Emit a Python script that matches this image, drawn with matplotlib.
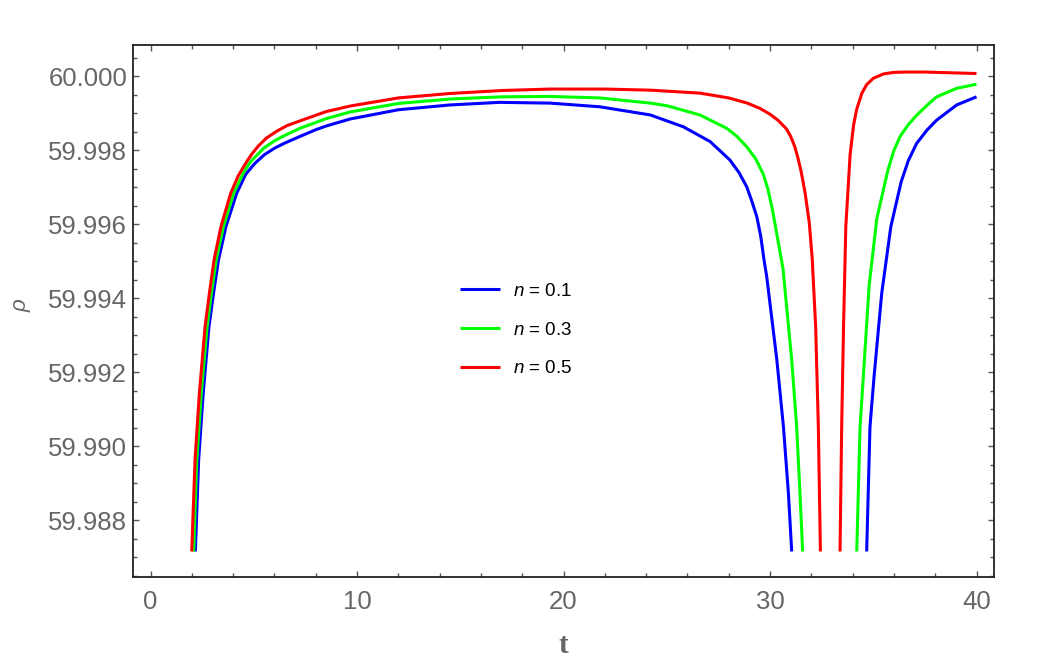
import numpy as np
import matplotlib
matplotlib.use("Agg")
from matplotlib import pyplot as plt
from matplotlib.ticker import MultipleLocator, FormatStrFormatter

# curves: each one splits in two branches around the dip
blue_t_a = [2.17, 2.33, 2.55, 2.83, 3.05, 3.29, 3.65, 4.17, 4.6, 5.05, 5.5, 6.0, 6.5, 7.24,
            8.0, 8.5, 9.66, 12.0, 14.5, 16.9, 19.35, 21.76, 24.2, 25.8, 27.1, 28.06, 28.5,
            28.87, 29.1, 29.36, 29.55, 29.71, 29.84, 30.33, 30.65, 30.89, 31.05]
blue_r_a = [59.98716, 59.98964, 59.99144, 59.99324, 59.99414, 59.99504, 59.99594, 59.99684,
            59.99735, 59.99765, 59.99788, 59.99806, 59.99820, 59.99838, 59.99856, 59.99866,
            59.99885, 59.99910, 59.99923, 59.99930, 59.99928, 59.99918, 59.99896, 59.99864,
            59.99824, 59.99774, 59.99740, 59.99702, 59.99666, 59.99621, 59.99568, 59.99504,
            59.99459, 59.99234, 59.99053, 59.98874, 59.98716]
blue_t_b = [34.68, 34.84, 35.04, 35.41, 35.85, 36.35, 36.7, 37.1, 37.6, 38.07, 39.04, 40.0]
blue_r_b = [59.98716, 59.99053, 59.99190, 59.99414, 59.99594, 59.99715, 59.99773, 59.99819,
            59.99855, 59.99882, 59.99923, 59.99945]

green_t_a = [2.09, 2.24, 2.46, 2.74, 2.95, 3.18, 3.53, 4.02, 4.5, 4.85, 5.48, 6.0, 6.4, 7.24,
             8.5, 9.66, 12.0, 14.5, 17.0, 19.35, 21.76, 24.2, 25.0, 26.6, 27.9, 28.4, 28.87,
             29.3, 29.68, 29.9, 30.12, 30.63, 31.05, 31.29, 31.45, 31.58]
green_r_a = [59.98716, 59.98964, 59.99144, 59.99324, 59.99414, 59.99504, 59.99594, 59.99684,
             59.99740, 59.99770, 59.99806, 59.99826, 59.99838, 59.99860, 59.99886, 59.99904,
             59.99927, 59.99939, 59.99945, 59.99946, 59.99942, 59.99928, 59.99921, 59.99896,
             59.99860, 59.99838, 59.99810, 59.99778, 59.99735, 59.99695, 59.99639, 59.99480,
             59.99234, 59.99053, 59.98874, 59.98716]
green_t_b = [34.2, 34.36, 34.52, 34.8, 35.17, 35.7, 36.0, 36.3, 36.7, 37.1, 37.6, 38.07, 39.04,
             40.0]
green_r_b = [59.98716, 59.99053, 59.99190, 59.99435, 59.99615, 59.99745, 59.99800, 59.99838,
             59.99870, 59.99895, 59.99922, 59.99945, 59.99968, 59.99979]

red_t_a = [1.995, 2.155, 2.365, 2.64, 2.85, 3.075, 3.41, 3.88, 4.25, 4.66, 4.9, 5.22, 5.6, 6.11,
           6.6, 7.24, 8.5, 9.66, 12.0, 14.5, 17.0, 19.35, 22.0, 24.2, 26.6, 28.0, 28.9, 29.5,
           30.0, 30.4, 30.8, 31.0, 31.2, 31.35, 31.5, 31.7, 31.9, 32.04, 32.21, 32.34, 32.44]
red_r_a = [59.98716, 59.98964, 59.99144, 59.99324, 59.99414, 59.99504, 59.99594, 59.99684,
           59.99732, 59.99770, 59.99790, 59.99812, 59.99833, 59.99852, 59.99867, 59.99880,
           59.99905, 59.99920, 59.99942, 59.99954, 59.99962, 59.99966, 59.99966, 59.99963,
           59.99955, 59.99942, 59.99928, 59.99914, 59.99898, 59.99881, 59.99858, 59.99838,
           59.99810, 59.99780, 59.99745, 59.99685, 59.99605, 59.99510, 59.99324, 59.99053,
           59.98716]
red_t_b = [33.39, 33.47, 33.56, 33.67, 33.88, 34.05, 34.2, 34.45, 34.68, 35.0, 35.5, 36.0,
           36.6, 37.5, 38.7, 40.0]
red_r_b = [59.98716, 59.99053, 59.99324, 59.99594, 59.99790, 59.99870, 59.99912, 59.99955,
           59.99978, 59.99995, 60.00007, 60.00011, 60.00012, 60.00012, 60.00010, 60.00008]

labels = ["$n$ = 0.1", "$n$ = 0.3", "$n$ = 0.5"]
colors = ["#0000ff", "#00ff00", "#ff0000"]

plt.rcParams['font.family'] = ['Liberation Sans', 'DejaVu Sans']
plt.rcParams['mathtext.fontset'] = 'custom'
plt.rcParams['mathtext.rm'] = 'Liberation Sans'
plt.rcParams['mathtext.it'] = 'Liberation Sans:italic'

fig = plt.figure(figsize=(10.42, 6.65), dpi=100)
ax = fig.add_axes([0.1274, 0.1323, 0.8266, 0.8000])

branches = [(blue_t_a, blue_r_a, blue_t_b, blue_r_b),
            (green_t_a, green_r_a, green_t_b, green_r_b),
            (red_t_a, red_r_a, red_t_b, red_r_b)]
for (ta, ra, tb, rb), c, lab in zip(branches, colors, labels):
    ax.plot(ta, ra, color=c, linewidth=2.2, label=lab, solid_capstyle='butt',
            solid_joinstyle='round')
    ax.plot(tb, rb, color=c, linewidth=2.2, solid_capstyle='butt', solid_joinstyle='round')

ax.set_xlim(-0.862, 40.85)
ax.set_ylim(59.98647, 60.00085)

ax.xaxis.set_major_locator(MultipleLocator(10))
ax.xaxis.set_minor_locator(MultipleLocator(2))
ax.yaxis.set_major_locator(MultipleLocator(0.002))
ax.yaxis.set_minor_locator(MultipleLocator(0.0005))
ax.yaxis.set_major_formatter(FormatStrFormatter('%.3f'))

ax.tick_params(which='both', direction='in', top=True, right=True, color='#555555', width=1.0)
ax.tick_params(which='major', length=4.5, labelsize=18.5, labelcolor='#666666')
ax.tick_params(which='minor', length=2.6)
ax.tick_params(axis='x', which='major', pad=9)
ax.tick_params(axis='y', which='major', pad=4)
for sp in ax.spines.values():
    sp.set_color('#222222')
    sp.set_linewidth(1.3)

ax.set_xlabel('t', fontsize=21, fontweight='bold', color='#666666',
              family=['Liberation Serif', 'DejaVu Serif'])
ax.xaxis.set_label_coords(0.4996, -0.128)
ax.xaxis.label.set_va('center')
ax.set_ylabel(r'$\rho$', fontsize=16, color='#666666')
ax.yaxis.set_label_coords(-0.1285, 0.511)
ax.yaxis.label.set_va('center')

ax.legend(loc='center left', bbox_to_anchor=(0.380, 0.464), frameon=False, fontsize=13.5,
          handlelength=2.15, handletextpad=0.65, labelspacing=1.15, borderpad=0,
          borderaxespad=0)

fig.savefig('out.png', dpi=100)
